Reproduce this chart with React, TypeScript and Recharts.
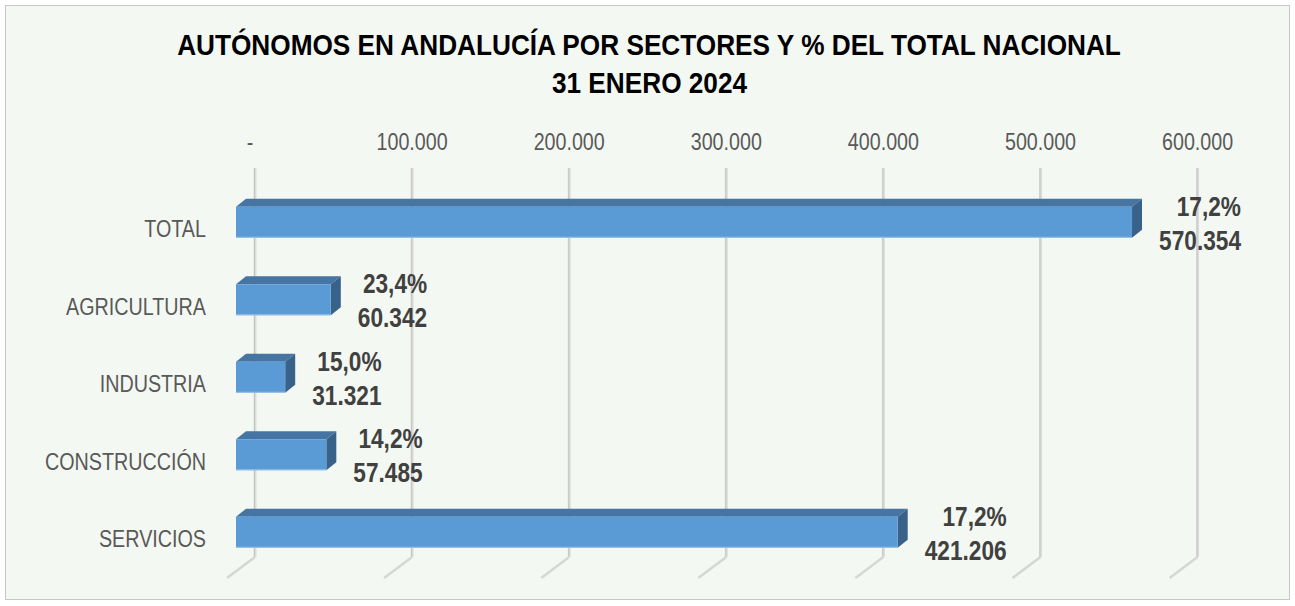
import React from "react";
import { BarChart, Bar, XAxis, YAxis, CartesianGrid } from "recharts";

const categories = ["TOTAL", "AGRICULTURA", "INDUSTRIA", "CONSTRUCCIÓN", "SERVICIOS"];
const values = [570354, 60342, 31321, 57485, 421206];
const percents = ["17,2%", "23,4%", "15,0%", "14,2%", "17,2%"];
const xTicks = [0, 100000, 200000, 300000, 400000, 500000, 600000];
const xTickLabels = ["-", "100.000", "200.000", "300.000", "400.000", "500.000", "600.000"];
const titleLines = ["AUTÓNOMOS EN ANDALUCÍA POR SECTORES Y % DEL TOTAL NACIONAL", "31 ENERO 2024"];

const data = categories.map((name, i) => ({ name, value: values[i], pct: percents[i] }));

const FONT = "'Liberation Sans', Arial, sans-serif";
const fmt = (v: number) => v.toLocaleString("de-DE");

let ctx: CanvasRenderingContext2D | null = null;
function measure(text: string, font: string) {
  if (!ctx) ctx = document.createElement("canvas").getContext("2d");
  if (!ctx) return text.length * 14;
  ctx.font = font;
  return ctx.measureText(text).width;
}

const DX = 10;
const DY = 8;
const BACK = 19;
const LBL_SIZE = 27;
const LBL_SX = 0.84;

const NText = (p: any) => {
  const { x, y, sx, anchor, size, weight, fill, children } = p;
  return (
    <text
      transform={`translate(${x},${y}) scale(${sx},1)`}
      textAnchor={anchor}
      fontFamily={FONT}
      fontWeight={weight || "normal"}
      fontSize={size}
      fill={fill}
    >
      {children}
    </text>
  );
};

const Bar3D = (props: any) => {
  const { x, y, width, height, payload } = props;
  const w = Math.max(0, width);
  const l2 = fmt(payload.value);
  const right = x + w + 27 + measure(l2, `bold ${LBL_SIZE}px ${FONT}`) * LBL_SX;
  const cy = y + height / 2;
  return (
    <g>
      <polygon
        points={`${x},${y} ${x + DX},${y - DY} ${x + w + DX},${y - DY} ${x + w},${y}`}
        fill="#4675a3"
      />
      <polygon
        points={`${x + w},${y} ${x + w + DX},${y - DY} ${x + w + DX},${y + height - DY} ${x + w},${y + height}`}
        fill="#39628b"
      />
      <rect x={x} y={y} width={w} height={height} fill="#5b9bd5" />
      <line x1={x} y1={y + height - 0.5} x2={x + w} y2={y + height - 0.5} stroke="#9dc3e8" strokeWidth={1} />
      <NText x={right} y={cy - 6.5} sx={LBL_SX} anchor="end" size={LBL_SIZE} weight="bold" fill="#404040">
        {payload.pct}
      </NText>
      <NText x={right} y={cy + 27.5} sx={LBL_SX} anchor="end" size={LBL_SIZE} weight="bold" fill="#404040">
        {l2}
      </NText>
    </g>
  );
};

const GridLine = (props: any) => {
  const { x1, index } = props;
  const bx = x1 + BACK;
  return (
    <g key={`g-${index}`}>
      <line x1={bx} y1={168} x2={bx} y2={557} stroke="#dcdcdc" strokeWidth={3} />
      <line x1={bx - 0.5} y1={168} x2={bx - 0.5} y2={557} stroke="#c4c4c4" strokeWidth={1} />
      <line x1={bx} y1={557} x2={bx - 28} y2={578} stroke="#d6d6d6" strokeWidth={2.5} />
    </g>
  );
};

const XTick = (props: any) => {
  const { x, payload } = props;
  const i = xTicks.indexOf(payload.value);
  const off = i === 0 ? -5 : 0;
  return (
    <NText x={x + BACK + off} y={150} sx={0.82} anchor="middle" size={24} fill="#595959">
      {xTickLabels[i]}
    </NText>
  );
};

const YTick = (props: any) => {
  const { y, payload } = props;
  return (
    <NText x={206} y={y + 14.5} sx={0.84} anchor="end" size={23.5} fill="#595959">
      {payload.value}
    </NText>
  );
};

export default function App() {
  const t1w = measure(titleLines[0], `bold 30px ${FONT}`);
  const tsx = t1w > 0 ? 948 / t1w : 0.82;
  return (
    <div style={{ position: "absolute", left: 0, top: 0, width: 1295, height: 606, background: "#ffffff" }}>
      <div
        style={{
          position: "absolute",
          left: 5,
          top: 5,
          width: 1283,
          height: 593,
          background: "#f4f8f2",
          border: "1.5px solid #c6c6c6",
        }}
      />
      <div style={{ position: "absolute", left: 0, top: 0 }}>
        <BarChart
          width={1295}
          height={606}
          data={data}
          layout="vertical"
          margin={{ top: 153.75, right: 116.4, bottom: 34.75, left: 36 }}
        >
          <CartesianGrid horizontal={false} vertical={GridLine} stroke="none" />
          <XAxis
            type="number"
            orientation="top"
            domain={[0, 600000]}
            ticks={xTicks}
            height={30}
            axisLine={false}
            tickLine={false}
            tick={XTick}
            interval={0}
          />
          <YAxis
            type="category"
            dataKey="name"
            width={200}
            axisLine={false}
            tickLine={false}
            tick={YTick}
            interval={0}
          />
          <Bar dataKey="value" barSize={31} shape={Bar3D} isAnimationActive={false} />
        </BarChart>
        <svg width={1295} height={110} style={{ position: "absolute", left: 0, top: 0 }}>
          <NText x={649} y={55} sx={tsx} anchor="middle" size={30} weight="bold" fill="#000000">
            {titleLines[0]}
          </NText>
          <NText x={649.5} y={93} sx={tsx} anchor="middle" size={30} weight="bold" fill="#000000">
            {titleLines[1]}
          </NText>
        </svg>
      </div>
    </div>
  );
}
